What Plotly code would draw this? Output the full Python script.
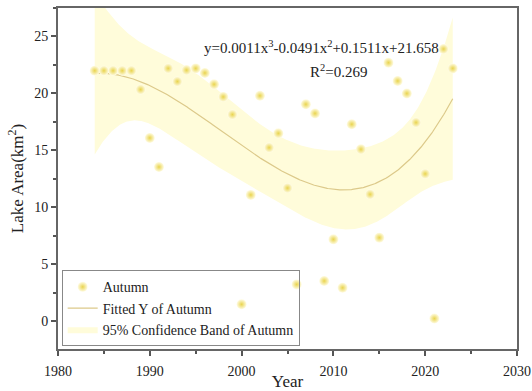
import numpy as np
import plotly.graph_objects as go

# Autumn lake area observations
years = list(range(1984, 2024))
area = [22.0, 22.0, 22.0, 22.0, 22.0, 20.35, 16.1, 13.55, 22.2, 21.05,
        22.05, 22.2, 21.8, 20.8, 19.7, 18.15, 1.5, 11.1, 19.8, 15.25,
        16.5, 11.7, 3.25, 19.05, 18.25, 3.55, 7.2, 2.95, 17.3, 15.1,
        11.15, 7.35, 22.7, 21.1, 20.0, 17.45, 12.95, 0.25, 23.9, 22.2]

# Cubic fit coefficients (x = year index, 1 for 1984)
coef = [0.0011, -0.0491, 0.1511, 21.658]
r_squared = 0.269
t_crit = 2.028  # two-sided 95 %, 36 dof

x_idx = np.arange(1, len(years) + 1, dtype=float)
y = np.array(area)
X = np.vstack([x_idx**3, x_idx**2, x_idx, np.ones_like(x_idx)]).T
resid = y - X @ np.array(coef)
s2 = np.sum(resid**2) / (len(y) - 4)
cov = s2 * np.linalg.inv(X.T @ X)

xg = np.linspace(1, len(years), 400)
Xg = np.vstack([xg**3, xg**2, xg, np.ones_like(xg)]).T
yg = Xg @ np.array(coef)
half = t_crit * np.sqrt(np.einsum("ij,jk,ik->i", Xg, cov, Xg))
year_grid = xg + years[0] - 1

serif = "Liberation Serif, Times New Roman, serif"

fig = go.Figure()
fig.add_trace(go.Scatter(
    x=year_grid, y=yg - half, mode="lines", line=dict(width=0),
    showlegend=False, hoverinfo="skip"))
fig.add_trace(go.Scatter(
    x=year_grid, y=yg + half, mode="lines", line=dict(width=0),
    fill="tonexty", fillcolor="rgb(255,252,218)",
    name="95% Confidence Band of Autumn", legendrank=3))
fig.add_trace(go.Scatter(
    x=year_grid, y=yg, mode="lines",
    line=dict(color="#DCC98A", width=1.2),
    name="Fitted Y of Autumn", legendrank=2))
fig.add_trace(go.Scatter(
    x=years, y=area, mode="markers",
    marker=dict(size=10, color="#FFFCE6",
                gradient=dict(type="radial", color="#E9D44E"),
                line=dict(width=0)),
    name="Autumn", legendrank=1))

fig.add_annotation(
    x=0.575, y=1 - (36 - 8) / 341, xref="paper", yref="paper", showarrow=False,
    text="y=0.0011x<sup>3</sup>-0.0491x<sup>2</sup>+0.1511x+21.658",
    font=dict(family=serif, size=15, color="#222"))
fig.add_annotation(
    x=0.611, y=1 - (60 - 8) / 341, xref="paper", yref="paper", showarrow=False,
    text=f"R<sup>2</sup>={r_squared}",
    font=dict(family=serif, size=15, color="#222"))

axis_common = dict(
    showline=True, linecolor="#666", linewidth=2, mirror=True,
    ticks="outside", ticklen=5, tickwidth=1.5, tickcolor="#555",
    showgrid=False, zeroline=False, automargin=False,
    tickfont=dict(family=serif, size=14, color="#222"),
)

fig.update_xaxes(
    range=[1980, 2030], dtick=10, tick0=1980, ticklabelstandoff=3,
    minor=dict(dtick=5, ticks="outside", ticklen=3, tickcolor="#555"),
    title=dict(text="Year", font=dict(family=serif, size=17, color="#222"), standoff=0),
    **axis_common)
fig.update_yaxes(
    range=[-2.42, 27.5], dtick=5, tick0=0,
    minor=dict(dtick=2.5, ticks="outside", ticklen=3, tickcolor="#555"),
    title=dict(text="Lake Area(km<sup>2</sup>)", font=dict(family=serif, size=17, color="#222"), standoff=6),
    **axis_common)

fig.update_layout(
    width=532, height=391,
    margin=dict(l=58, r=15, t=8, b=42),
    plot_bgcolor="white", paper_bgcolor="white",
    legend=dict(
        x=0.008, y=0.008, xanchor="left", yanchor="bottom",
        bgcolor="rgba(0,0,0,0)", bordercolor="#888", borderwidth=1,
        font=dict(family=serif, size=14, color="#222"),
        traceorder="normal", tracegroupgap=0, itemwidth=30),
    showlegend=True,
)

fig.write_html("out.html")
